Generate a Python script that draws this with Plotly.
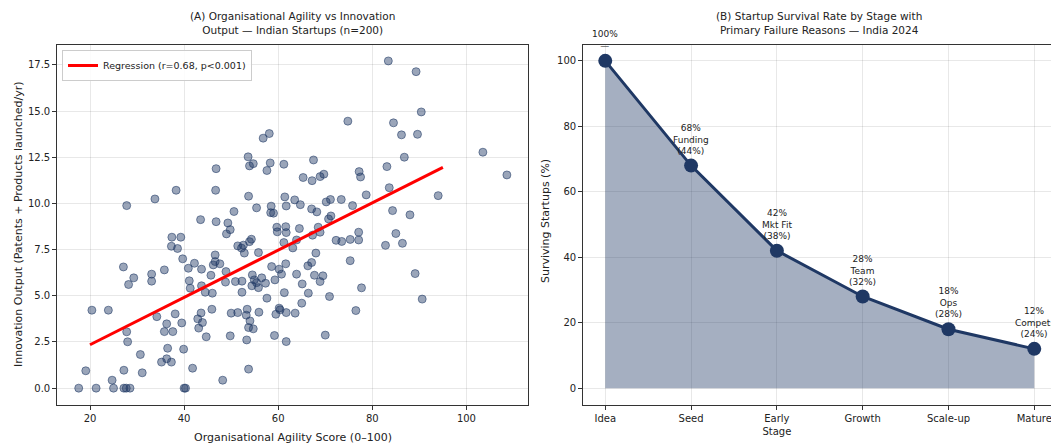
import plotly.graph_objects as go

# ---------------- Data: Panel A (scatter) ----------------
agility = [56.8, 58.1, 53.6, 53.9, 54.7, 58.3, 57.6, 61.2, 46.8, 38.3,
           33.8, 46.7, 53.7, 61.4, 63.5, 61.7, 65.3, 64.7, 55.4, 50.6,
           58.5, 58.4, 59.0, 43.5, 46.8, 49.3, 49.8, 49.0, 59.7, 61.6,
           61.7, 59.8, 61.2, 37.4, 39.3, 37.3, 38.6, 51.4, 52.6, 53.9,
           54.3, 52.2, 63.1, 39.7, 35.8, 33.1, 33.1, 40.9, 42.2, 43.7,
           46.6, 46.6, 47.6, 46.2, 45.7, 48.9, 41.1, 41.3, 43.7, 44.5,
           46.0, 48.8, 50.9, 52.3, 52.3, 52.8, 55.8, 54.5, 54.9, 55.4,
           54.4, 55.8, 56.5, 57.3, 58.6, 60.2, 60.7, 61.6, 59.3, 61.3,
           57.6, 63.9, 63.9, 34.2, 38.1, 36.3, 35.8, 37.6, 39.5, 43.6,
           42.9, 43.9, 43.1, 45.9, 44.7, 50.0, 51.4, 53.4, 53.2, 54.0,
           53.7, 54.7, 55.9, 49.8, 53.3, 60.2, 60.4, 59.5, 61.7, 63.6,
           59.2, 61.7, 36.5, 39.9, 35.2, 36.3, 37.3, 41.8, 53.7, 68.0,
           67.1, 66.3, 67.7, 69.5, 68.9, 65.1, 66.4, 70.9, 65.0, 75.3,
           77.7, 76.5, 70.0, 82.8, 86.4, 89.1, 90.6, 72.3, 73.5, 75.3,
           77.1, 74.8, 84.5, 86.2, 89.6, 86.8, 83.1, 67.5, 67.2, 68.9,
           69.7, 77.2, 77.5, 83.6, 78.7, 70.2, 71.1, 73.4, 75.8, 67.1,
           68.2, 71.2, 70.7, 68.5, 67.3, 68.9, 64.5, 84.3, 88.0, 94.0,
           77.1, 85.0, 83.4, 89.3, 90.4, 103.5, 108.6, 27.8, 20.4, 23.9,
           27.1, 29.3, 28.2, 27.8, 28.0, 19.1, 17.6, 21.3, 24.7, 25.0,
           27.2, 27.2, 27.7, 28.5, 30.7, 31.1, 40.0, 40.3, 48.2]

innovation = [13.53, 13.78, 12.52, 12.03, 12.15, 12.19, 11.78, 12.12, 11.88, 10.71,
              10.24, 10.71, 10.39, 10.35, 10.19, 9.86, 11.40, 9.93, 9.76, 9.56,
              9.85, 9.50, 9.47, 9.12, 9.01, 8.94, 8.58, 8.35, 8.71, 8.74,
              8.42, 8.46, 7.88, 8.17, 8.17, 7.68, 7.56, 7.70, 7.74, 7.93,
              8.06, 7.58, 7.59, 7.00, 6.40, 6.17, 5.79, 6.49, 6.76, 6.44,
              7.21, 6.85, 6.73, 6.67, 6.11, 6.31, 5.81, 5.41, 5.54, 5.19,
              5.14, 5.74, 5.77, 5.79, 5.19, 7.31, 7.34, 6.13, 5.86, 5.71,
              5.54, 5.44, 5.97, 5.68, 6.58, 6.44, 6.17, 6.73, 5.86, 5.17,
              4.87, 8.02, 6.17, 3.87, 4.02, 3.48, 3.06, 3.06, 3.53, 4.07,
              3.75, 3.55, 3.25, 4.27, 2.78, 4.06, 4.09, 4.27, 3.95, 3.64,
              3.28, 3.21, 4.11, 2.83, 2.61, 4.33, 4.24, 4.00, 4.09, 4.06,
              2.85, 2.52, 2.16, 2.11, 1.41, 1.59, 1.41, 1.08, 1.03, 7.31,
              6.80, 6.62, 6.11, 6.08, 5.77, 5.64, 5.14, 4.96, 4.60, 6.90,
              5.43, 4.20, 2.87, 7.73, 7.84, 6.20, 4.82, 8.00, 7.94, 8.05,
              8.02, 14.45, 14.36, 13.71, 13.74, 12.50, 11.99, 12.35, 11.23, 11.45,
              11.58, 11.72, 11.43, 10.85, 10.46, 10.08, 10.21, 10.21, 9.88, 9.70,
              9.54, 9.32, 9.16, 8.71, 8.28, 8.44, 8.64, 9.61, 9.38, 10.42,
              8.44, 8.37, 17.71, 17.13, 14.95, 12.77, 11.54, 9.88, 4.22, 4.22,
              6.56, 5.97, 5.61, 3.05, 2.51, 0.94, 0.0, 0.0, 0.43, 0.0,
              0.97, 0.0, 0.0, 0.0, 1.82, 0.83, 0.0, 0.0, 0.43]

reg_slope = 0.128
reg_intercept = -0.21
reg_x_range = [20, 95]
reg_label = "Regression (r=0.68, p<0.001)"

x_ticks_a = [20, 40, 60, 80, 100]
y_ticks_a = [0.0, 2.5, 5.0, 7.5, 10.0, 12.5, 15.0, 17.5]

# ---------------- Data: Panel B (survival) ----------------
stages = ["Idea", "Seed", "Early<br>Stage", "Growth", "Scale-up", "Mature"]
survival = [100, 68, 42, 28, 18, 12]
fail_reason = ["", "Funding", "Mkt Fit", "Team", "Ops", "Compet."]
fail_share = [None, 44, 38, 32, 28, 24]
y_ticks_b = [0, 20, 40, 60, 80, 100]

NAVY = "rgb(31,56,100)"
FONT = "DejaVu Sans"
TXT = "#222222"

fig = go.Figure()

# Panel A
fig.add_trace(go.Scatter(
    x=agility, y=innovation, mode="markers", showlegend=False,
    marker=dict(size=8, color="rgba(31,56,100,0.45)",
                line=dict(color="rgba(31,56,100,0.55)", width=1)),
    xaxis="x", yaxis="y", hoverinfo="skip"))

reg_y = [reg_slope * v + reg_intercept for v in reg_x_range]
fig.add_trace(go.Scatter(
    x=reg_x_range, y=reg_y, mode="lines", name=reg_label,
    line=dict(color="#ff0000", width=3), xaxis="x", yaxis="y"))

# Panel B
xpos = list(range(len(stages)))
fig.add_trace(go.Scatter(
    x=xpos, y=survival, mode="lines", fill="tozeroy",
    fillcolor="rgba(31,56,100,0.4)", line=dict(width=0),
    showlegend=False, xaxis="x2", yaxis="y2", hoverinfo="skip"))
fig.add_trace(go.Scatter(
    x=xpos, y=survival, mode="lines+markers", showlegend=False,
    line=dict(color=NAVY, width=3), marker=dict(size=14, color=NAVY),
    xaxis="x2", yaxis="y2"))

annotations = []
for i, (v, r, s) in enumerate(zip(survival, fail_reason, fail_share)):
    if s is None:
        txt = f"{v}%<br>—"
    else:
        txt = f"{v}%<br>{r}<br>({s}%)"
    annotations.append(dict(
        x=xpos[i], y=v, xref="x2", yref="y2", text=txt, showarrow=False,
        yanchor="bottom", xanchor="center", yshift=8,
        font=dict(family=FONT, size=9, color=TXT)))

W, H = 1051, 446
def px_x(p):
    return p / W
def px_y(p):
    return (H - p) / H

# titles
annotations.append(dict(
    x=px_x(292.8), y=px_y(38), xref="paper", yref="paper", showarrow=False,
    text="(A) Organisational Agility vs Innovation<br>Output — Indian Startups (n=200)",
    yanchor="bottom", xanchor="center", font=dict(family=FONT, size=10.5, color=TXT)))
annotations.append(dict(
    x=px_x(818.5), y=px_y(38), xref="paper", yref="paper", showarrow=False,
    text="(B) Startup Survival Rate by Stage with<br>Primary Failure Reasons — India 2024",
    yanchor="bottom", xanchor="center", font=dict(family=FONT, size=10.5, color=TXT)))
# axis titles
annotations.append(dict(
    x=px_x(292.8), y=px_y(437), xref="paper", yref="paper", showarrow=False,
    text="Organisational Agility Score (0–100)", yanchor="middle", xanchor="center",
    font=dict(family=FONT, size=11, color=TXT)))
annotations.append(dict(
    x=px_x(18), y=px_y(225), xref="paper", yref="paper", showarrow=False,
    text="Innovation Output (Patents + Products launched/yr)", textangle=-90,
    yanchor="middle", xanchor="center", font=dict(family=FONT, size=11, color=TXT)))
annotations.append(dict(
    x=px_x(545), y=px_y(221), xref="paper", yref="paper", showarrow=False,
    text="Surviving Startups (%)", textangle=-90,
    yanchor="middle", xanchor="center", font=dict(family=FONT, size=11, color=TXT)))

axis_common = dict(
    showline=True, linecolor="#333333", linewidth=1.2, mirror=True,
    ticks="outside", ticklen=4, tickcolor="#333333", tickwidth=1,
    showgrid=True, gridcolor="rgba(0,0,0,0.09)", gridwidth=1,
    zeroline=False, automargin=False, ticklabeloverflow="allow",
    tickfont=dict(family=FONT, size=10, color=TXT))

ydom = [px_y(404.5), px_y(44.5)]

fig.update_layout(
    width=W, height=H,
    margin=dict(l=0, r=0, t=0, b=0),
    paper_bgcolor="white", plot_bgcolor="white",
    font=dict(family=FONT, color=TXT),
    xaxis=dict(domain=[px_x(57.3), px_x(528.3)], range=[13.05, 113.15],
               tickvals=x_ticks_a, anchor="y", **axis_common),
    yaxis=dict(domain=ydom, range=[-0.885, 18.6], tickvals=y_ticks_a,
               ticktext=[f"{t:.1f}" for t in y_ticks_a], anchor="x", **axis_common),
    xaxis2=dict(domain=[px_x(583.3), 1.0], range=[-0.256, 5.195],
                tickvals=xpos, ticktext=stages, anchor="y2", **axis_common),
    yaxis2=dict(domain=ydom, range=[-5, 105], tickvals=y_ticks_b,
                anchor="x2", **axis_common),
    legend=dict(x=px_x(62), y=px_y(50), xanchor="left", yanchor="top",
                bordercolor="#cccccc", borderwidth=1,
                bgcolor="rgba(255,255,255,0.85)",
                font=dict(family=FONT, size=9.5, color=TXT)),
    annotations=annotations,
    showlegend=True,
)

fig.write_html("out.html", config={"displayModeBar": False},
               post_script="document.body.style.margin='0';document.body.style.overflow='hidden';")
